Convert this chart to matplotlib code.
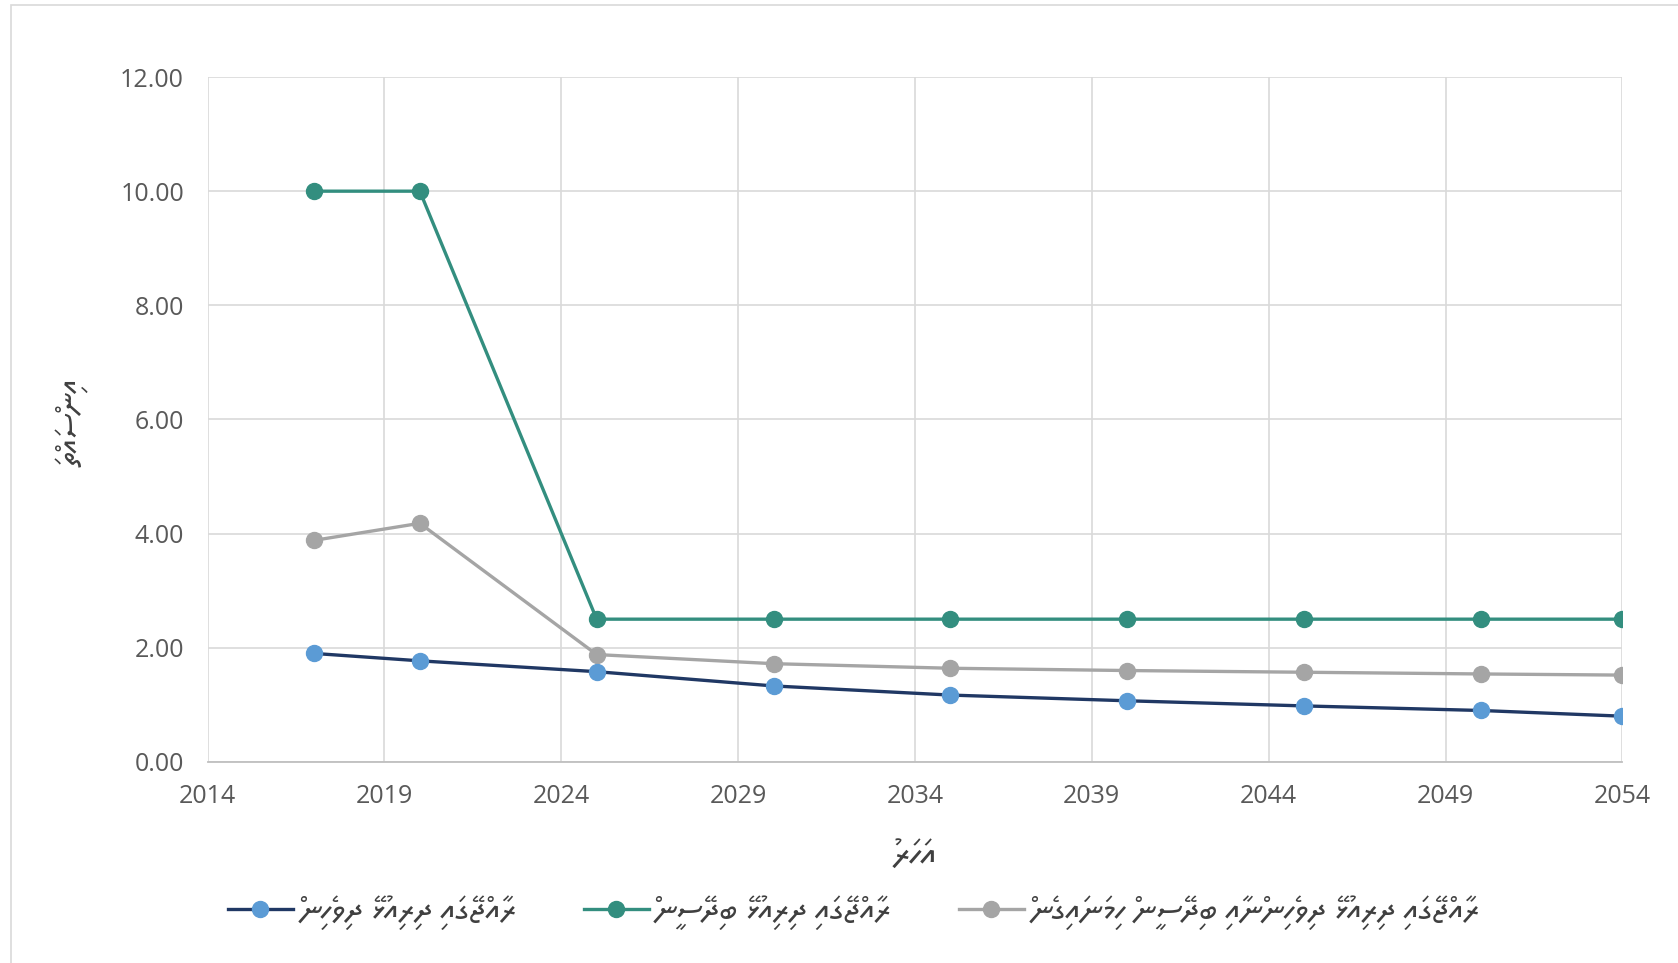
import matplotlib
matplotlib.use("Agg")
import matplotlib.pyplot as plt
from matplotlib.patches import Rectangle
from matplotlib.ticker import FormatStrFormatter, MultipleLocator

# ---- data ----
years = [2017, 2020, 2025, 2030, 2035, 2040, 2045, 2050, 2054]
maldivians = [1.90, 1.77, 1.58, 1.33, 1.17, 1.07, 0.98, 0.90, 0.80]
foreigners = [10.00, 10.00, 2.50, 2.50, 2.50, 2.50, 2.50, 2.50, 2.50]
total = [3.88, 4.18, 1.88, 1.72, 1.64, 1.60, 1.57, 1.54, 1.52]

label_maldivians = "ރާއްޖޭގައި ދިރިއުޅޭ ދިވެހިން"
label_foreigners = "ރާއްޖޭގައި ދިރިއުޅޭ ބިދޭސީން"
label_total = "ރާއްޖޭގައި ދިރިއުޅޭ ދިވެހިންނާއި ބިދޭސީން ހިމަނައިގެން"
x_label = "އަހަރު"
y_label = "އިންސައްތަ"

x_ticks = list(range(2014, 2055, 5))


def visual(s):
    """Logical-order Thaana -> visual LTR order; each vowel mark is put before its base
    (the font draws zero-width marks to the right of the pen position)."""
    clusters = []
    for ch in s:
        if 0x07A6 <= ord(ch) <= 0x07B0 and clusters:
            clusters[-1] = ch + clusters[-1]
        else:
            clusters.append(ch)
    return "".join(reversed(clusters))


THAANA = ["Noto Sans Thaana", "DejaVu Sans"]
plt.rcParams["font.family"] = ["Open Sans", "Noto Sans Thaana", "DejaVu Sans"]

fig = plt.figure(figsize=(16.78, 9.63), dpi=100)
W, H = 1568.0, 900.0
ax = fig.add_axes([194 / W, 1 - 712 / H, (1516 - 194) / W, (712 - 72) / H])

# chart border
fig.patches.append(Rectangle((10 / W, -0.01), 1.0, 1 - 5 / H + 0.01, transform=fig.transFigure,
                             fill=False, edgecolor="#D9D9D9", linewidth=1.2))

lw = 2.4
ms = 11.5
ax.plot(years, maldivians, color="#203864", linewidth=lw, marker="o", markersize=ms,
        markerfacecolor="#5B9BD5", markeredgecolor="#5B9BD5", label=visual(label_maldivians), zorder=4)
ax.plot(years, foreigners, color="#338E7F", linewidth=lw, marker="o", markersize=ms,
        markerfacecolor="#338E7F", markeredgecolor="#338E7F", label=visual(label_foreigners), zorder=3)
ax.plot(years, total, color="#A5A5A5", linewidth=lw, marker="o", markersize=ms,
        markerfacecolor="#A5A5A5", markeredgecolor="#A5A5A5", label=visual(label_total), zorder=3)

ax.set_xlim(2014, 2054)
ax.set_ylim(0, 12)
ax.set_xticks(x_ticks)
ax.yaxis.set_major_locator(MultipleLocator(2))
ax.yaxis.set_major_formatter(FormatStrFormatter("%.2f"))
ax.grid(True, color="#D9D9D9", linewidth=1.2)
ax.set_axisbelow(True)
for s in ["top", "right", "left"]:
    ax.spines[s].set_visible(False)
ax.spines["bottom"].set_color("#BFBFBF")
ax.spines["bottom"].set_linewidth(1.3)
ax.tick_params(axis="both", length=0, labelsize=18, labelcolor="#595959")
ax.tick_params(axis="y", pad=17)
ax.tick_params(axis="x", pad=16)

fig.text(855 / W, 1 - 800 / H, visual(x_label), family=THAANA, fontsize=26, color="#404040",
         ha="center", va="center")
fig.text(68 / W, 1 - 395 / H, visual(y_label), family=THAANA, fontsize=23, color="#404040",
         ha="center", va="center", rotation=90)

leg = fig.legend(loc="center", bbox_to_anchor=(798 / W, 1 - 853 / H), ncol=3, frameon=False,
                 prop={"family": THAANA, "size": 24}, handlelength=1.95, numpoints=1,
                 columnspacing=2.0, handletextpad=0.2)
for t in leg.get_texts():
    t.set_color("#404040")

fig.savefig("out.png", dpi=100)
